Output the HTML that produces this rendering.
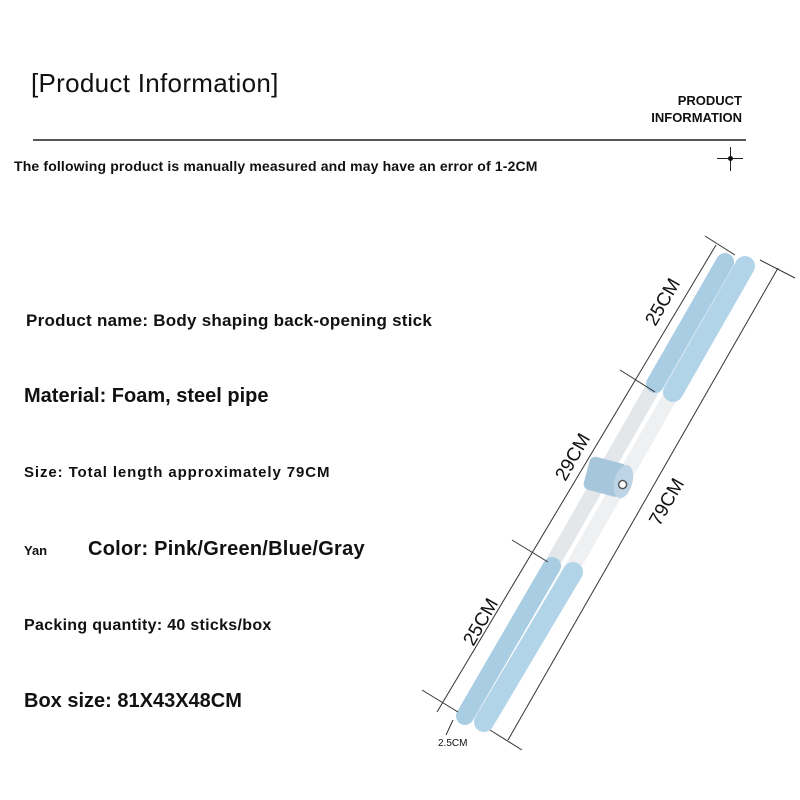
<!DOCTYPE html>
<html><head><meta charset="utf-8"><style>
body{margin:0;width:800px;height:800px;background:#fff;overflow:hidden;position:relative;font-family:"Liberation Sans",sans-serif;color:#111}
.t{position:absolute;white-space:nowrap;font-weight:bold}
</style></head><body>
<div class="t" style="left:31px;top:68px;font-size:26px;font-weight:normal;letter-spacing:0.3px">[Product Information]</div>
<div class="t" style="left:640px;top:92px;font-size:13px;text-align:right;width:102px;line-height:17px">PRODUCT<br>INFORMATION</div>
<div style="position:absolute;left:33px;top:139px;width:713px;height:2px;background:#555"></div>
<div class="t" style="left:14px;top:158px;font-size:14px;letter-spacing:0.15px">The following product is manually measured and may have an error of 1-2CM</div>
<div style="position:absolute;left:730px;top:147px;width:1px;height:24px;background:#222"></div>
<div style="position:absolute;left:717px;top:158px;width:26px;height:1px;background:#222"></div>
<div style="position:absolute;left:728px;top:156px;width:5px;height:5px;border-radius:50%;background:#111"></div>
<div class="t" style="left:26px;top:311px;font-size:17px;letter-spacing:0.25px">Product name: Body shaping back-opening stick</div>
<div class="t" style="left:24px;top:385px;font-size:20px">Material: Foam, steel pipe</div>
<div class="t" style="left:24px;top:464px;font-size:15px;letter-spacing:0.9px">Size: Total length approximately 79CM</div>
<div class="t" style="left:24px;top:543px;font-size:13px">Yan</div>
<div class="t" style="left:88px;top:538px;font-size:20px;letter-spacing:0.25px">Color: Pink/Green/Blue/Gray</div>
<div class="t" style="left:24px;top:617px;font-size:16px;letter-spacing:0.3px">Packing quantity: 40 sticks/box</div>
<div class="t" style="left:24px;top:690px;font-size:20px">Box size: 81X43X48CM</div>
<svg width="800" height="800" style="position:absolute;left:0;top:0">
<g stroke-linecap="round" fill="none">
<line x1="725" y1="262" x2="465" y2="716" stroke="#e4e7ea" stroke-width="15"/>
<line x1="745" y1="266" x2="484" y2="722" stroke="#eef0f2" stroke-width="15"/>
<line x1="725" y1="262" x2="655" y2="384" stroke="#a9cde3" stroke-width="18"/>
<line x1="745" y1="266" x2="673" y2="392" stroke="#b2d4e8" stroke-width="20"/>
<line x1="552" y1="566" x2="465" y2="716" stroke="#a9cde3" stroke-width="18"/>
<line x1="573" y1="572" x2="484" y2="722" stroke="#b2d4e8" stroke-width="20"/>
</g>
<g transform="translate(606,477) rotate(15)">
<rect x="-20" y="-17" width="38" height="34" rx="6" fill="#a6c6dc"/>
<ellipse cx="18" cy="0" rx="9" ry="17" fill="#bcd4e6"/>
<circle cx="18" cy="3" r="4" fill="#fff" stroke="#555" stroke-width="1.5"/>
</g>
<g stroke="#333" stroke-width="1">
<line x1="716" y1="245" x2="437" y2="712"/>
<line x1="705" y1="236" x2="735" y2="255"/>
<line x1="620" y1="370" x2="655" y2="392"/>
<line x1="512" y1="540" x2="548" y2="562"/>
<line x1="422" y1="690" x2="458" y2="712"/>
<line x1="778" y1="268" x2="508" y2="740"/>
<line x1="760" y1="260" x2="795" y2="278"/>
<line x1="490" y1="730" x2="522" y2="750"/>
<line x1="453" y1="720" x2="446" y2="735"/>
</g>
<g font-family="Liberation Sans,sans-serif" font-size="19" fill="#111">
<text transform="translate(668,305) rotate(-60)" text-anchor="middle">25CM</text>
<text transform="translate(578,460) rotate(-60)" text-anchor="middle">29CM</text>
<text transform="translate(672,505) rotate(-60)" text-anchor="middle">79CM</text>
<text transform="translate(486,625) rotate(-60)" text-anchor="middle">25CM</text>
<text x="438" y="746" font-size="10">2.5CM</text>
</g>
</svg>
</body></html>
